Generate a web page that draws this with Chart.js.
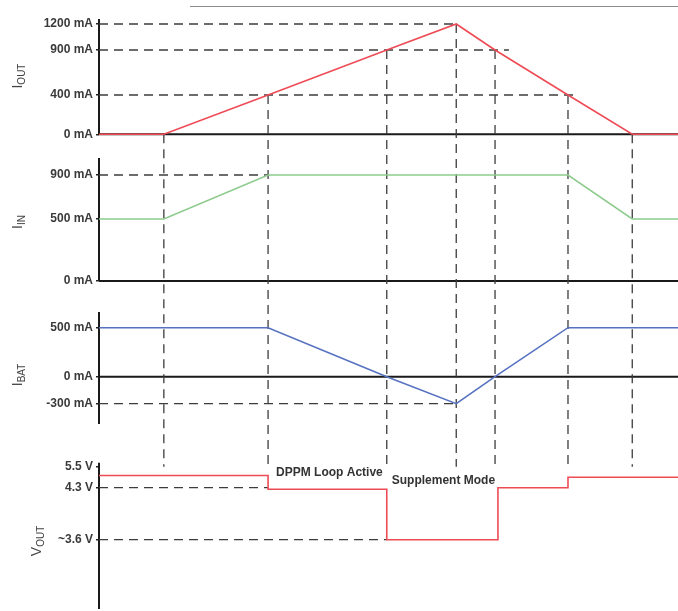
<!DOCTYPE html>
<html>
<head>
<meta charset="utf-8">
<script src="https://cdn.jsdelivr.net/npm/chart.js@4.4.1/dist/chart.umd.min.js"></script>
<style>
  body { margin: 0; background: #fff; }
  #wrap { position: relative; width: 678px; height: 611px; }
  #rule { position: absolute; left: 190px; top: 6px; width: 488px; border-top: 1.5px solid #8c8c8c; }
</style>
</head>
<body>
<div id="wrap">
  <div id="rule"></div>
  <canvas id="chart"></canvas>
</div>
<script>
// sweep times (arbitrary units) where something changes
const times = [0, 11.2, 29.2, 49.7, 61.7, 68.4, 81.0, 92.1, 100];
const iOut = [0, 0, 400, 900, 1200, 900, 400, 0, 0];
const iIn = [500, 500, 900, 900, 900, 900, 900, 500, 500];
const iBat = [500, 500, 500, 0, -300, 0, 500, 500, 500];
const vOutTimes = [0, 29.2, 49.7, 68.9, 81.0, 100];
const vOut = [5.0, 4.28, 3.6, 4.3, 4.9, 4.9];

const iOutTicks = [0, 400, 900, 1200];
const iInTicks = [0, 500, 900];
const iBatTicks = [-300, 0, 500];
const vOutTicks = [3.6, 4.3, 5.5];
const vOutTickLabels = ["~3.6 V", "4.3 V", "5.5 V"];

// dashed guide levels and the time where each one stops
const iOutGuides = [1200, 900, 400];
const iOutGuideEnds = [61.7, 70.8, 82.2];
const iInGuides = [900];
const iInGuideEnds = [29.2];
const iBatGuides = [-300];
const iBatGuideEnds = [61.7];
const vOutGuides = [4.3, 3.6];
const vOutGuideEnds = [29.2, 49.7];

// schematic axis: tick levels are not evenly spaced, so map value -> decimal through knots
function warp(knots, v) {
  let i = 1;
  while (i < knots.length - 1 && v > knots[i][0]) i++;
  const [v0, d0] = knots[i - 1], [v1, d1] = knots[i];
  return d0 + ((v - v0) * (d1 - d0)) / (v1 - v0);
}
function unwarp(knots, d) {
  let i = 1;
  while (i < knots.length - 1 && d > knots[i][1]) i++;
  const [v0, d0] = knots[i - 1], [v1, d1] = knots[i];
  return v0 + ((d - d0) * (v1 - v0)) / (d1 - d0);
}
class SchematicScale extends Chart.LinearScale {
  getPixelForValue(value) {
    return this.getPixelForDecimal(warp(this.options.knots, value));
  }
  getValueForPixel(pixel) {
    return unwarp(this.options.knots, this.getDecimalForPixel(pixel));
  }
}
SchematicScale.id = "schematic";
SchematicScale.defaults = {};
Chart.register(SchematicScale);

const font = "'Liberation Sans', Arial, sans-serif";
const ink = "#3c3c3c";

function panel(weight, stackWeight, ticks, labels, knots, axisSpan, baseline) {
  return {
    type: "schematic",
    position: "left",
    stack: "panels",
    stackWeight: stackWeight,
    weight: weight,
    min: knots[0][0],
    max: knots[knots.length - 1][0],
    knots: knots,
    axisSpan: axisSpan,
    baseline: baseline,
    afterFit: (s) => {
      s.width = 99;
      s.paddingTop = 0;
      s.paddingBottom = 0;
    },
    afterBuildTicks: (s) => { s.ticks = ticks.map((v) => ({ value: v })); },
    ticks: {
      autoSkip: false,
      padding: 3,
      color: "#3a3a3a",
      font: { family: font, size: 12, weight: "bold" },
      callback: (v, i) => labels[i],
    },
    grid: { drawOnChartArea: false, drawTicks: true, tickLength: 3, color: "#222", lineWidth: 1.5 },
    border: { display: false },
  };
}

const pts = (xs, ys) => ys.map((y, i) => ({ x: xs[i], y: y }));

function series(xs, ys, axis, color, extra) {
  return Object.assign({
    data: pts(xs, ys),
    yAxisID: axis,
    borderColor: color,
    borderWidth: 1.6,
    pointRadius: 0,
    tension: 0,
    order: 1,
  }, extra || {});
}

function guides(levels, ends, axis) {
  return levels.map((lv, i) => ({
    data: [{ x: times[0], y: lv }, { x: ends[i], y: lv }],
    yAxisID: axis,
    borderColor: ink,
    borderWidth: 1.3,
    borderDash: [9, 6],
    pointRadius: 0,
    order: 2,
  }));
}

const diagram = {
  id: "diagram",
  beforeDatasetsDraw(chart) {
    const { ctx, chartArea: a, scales } = chart;
    ctx.save();
    ctx.strokeStyle = "#1a1a1a";
    ctx.lineWidth = 2;
    ["yOut", "yIn", "yBat", "yV"].forEach((id) => {
      const s = scales[id];
      const span = s.options.axisSpan;
      ctx.beginPath();
      ctx.moveTo(a.left, s.getPixelForDecimal(span[0]));
      ctx.lineTo(a.left, s.getPixelForDecimal(span[1]));
      if (s.options.baseline) {
        const y0 = s.getPixelForValue(0);
        ctx.moveTo(a.left, y0);
        ctx.lineTo(a.right, y0);
      }
      ctx.stroke();
    });
    // event lines from the IOUT curve down to the VOUT panel
    ctx.setLineDash([9, 6]);
    ctx.strokeStyle = ink;
    ctx.lineWidth = 1.3;
    const x = scales.x;
    for (let i = 1; i < times.length - 1; i++) {
      const px = x.getPixelForValue(times[i]);
      ctx.beginPath();
      ctx.moveTo(px, scales.yOut.getPixelForValue(iOut[i]));
      ctx.lineTo(px, scales.yV.getPixelForValue(vOutTicks[2]));
      ctx.stroke();
    }
    ctx.restore();
  },
  afterDraw(chart) {
    const { ctx, scales } = chart;
    ctx.save();
    ctx.fillStyle = "#444";
    const titles = [
      { axis: "yOut", main: "I", sub: "OUT", x: 22, at: 0.551 },
      { axis: "yIn", main: "I", sub: "IN", x: 22, at: 0.493 },
      { axis: "yBat", main: "I", sub: "BAT", x: 22, at: 0.463 },
      { axis: "yV", main: "V", sub: "OUT", x: 41, at: 0.41 },
    ];
    titles.forEach((t) => {
      const y = scales[t.axis].getPixelForDecimal(t.at);
      ctx.font = "14px " + font;
      const w1 = ctx.measureText(t.main).width;
      ctx.font = "10px " + font;
      const w2 = ctx.measureText(t.sub).width;
      ctx.save();
      ctx.translate(t.x, y);
      ctx.rotate(-Math.PI / 2);
      ctx.textBaseline = "alphabetic";
      ctx.textAlign = "left";
      const start = -(w1 + w2) / 2;
      ctx.font = "14px " + font;
      ctx.fillText(t.main, start, 0);
      ctx.font = "10px " + font;
      ctx.fillText(t.sub, start + w1, 3);
      ctx.restore();
    });
    ctx.font = "bold 12px " + font;
    ctx.fillStyle = "#333";
    ctx.textBaseline = "middle";
    ctx.textAlign = "left";
    ctx.fillText("DPPM Loop Active", scales.x.getPixelForValue(times[2]) + 8, scales.yV.getPixelForValue(5.5) + 6);
    ctx.fillText("Supplement Mode", scales.x.getPixelForValue(times[3]) + 5, scales.yV.getPixelForValue(4.3) - 7);
    ctx.restore();
  },
};

new Chart(document.getElementById("chart"), {
  type: "line",
  data: {
    datasets: [
      series(times, iOut, "yOut", "#ee4b55"),
      series(times, iIn, "yIn", "#8dcb8d"),
      series(times, iBat, "yBat", "#5672c0"),
      series(vOutTimes, vOut, "yV", "#ee4b55", { stepped: true }),
      ...guides(iOutGuides, iOutGuideEnds, "yOut"),
      ...guides(iInGuides, iInGuideEnds, "yIn"),
      ...guides(iBatGuides, iBatGuideEnds, "yBat"),
      ...guides(vOutGuides, vOutGuideEnds, "yV"),
    ],
  },
  options: {
    responsive: true,
    maintainAspectRatio: false,
    animation: false,
    events: [],
    layout: { padding: { top: 19, bottom: 2, left: 0, right: 0 } },
    plugins: { legend: { display: false }, tooltip: { enabled: false } },
    scales: {
      x: { type: "linear", min: 0, max: 100, display: false },
      yOut: panel(4, 127, iOutTicks, iOutTicks.map((v) => v + " mA"),
        [[0, 0.0921], [400, 0.4016], [900, 0.7559], [1200, 0.9606]], [0.0921, 1], true),
      yIn: panel(3, 150, iInTicks, iInTicks.map((v) => v + " mA"),
        [[0, 0.1], [500, 0.5133], [900, 0.8067]], [0.1, 0.92], true),
      yBat: panel(2, 147, iBatTicks, iBatTicks.map((v) => v + " mA"),
        [[-300, 0.2673], [0, 0.451], [500, 0.7844]], [0.129, 0.891], true),
      yV: panel(1, 166, vOutTicks, vOutTickLabels,
        [[3.6, 0.4175], [4.3, 0.7307], [5.5, 0.857]], [0, 0.881], false),
    },
  },
  plugins: [diagram],
});
</script>
</body>
</html>
